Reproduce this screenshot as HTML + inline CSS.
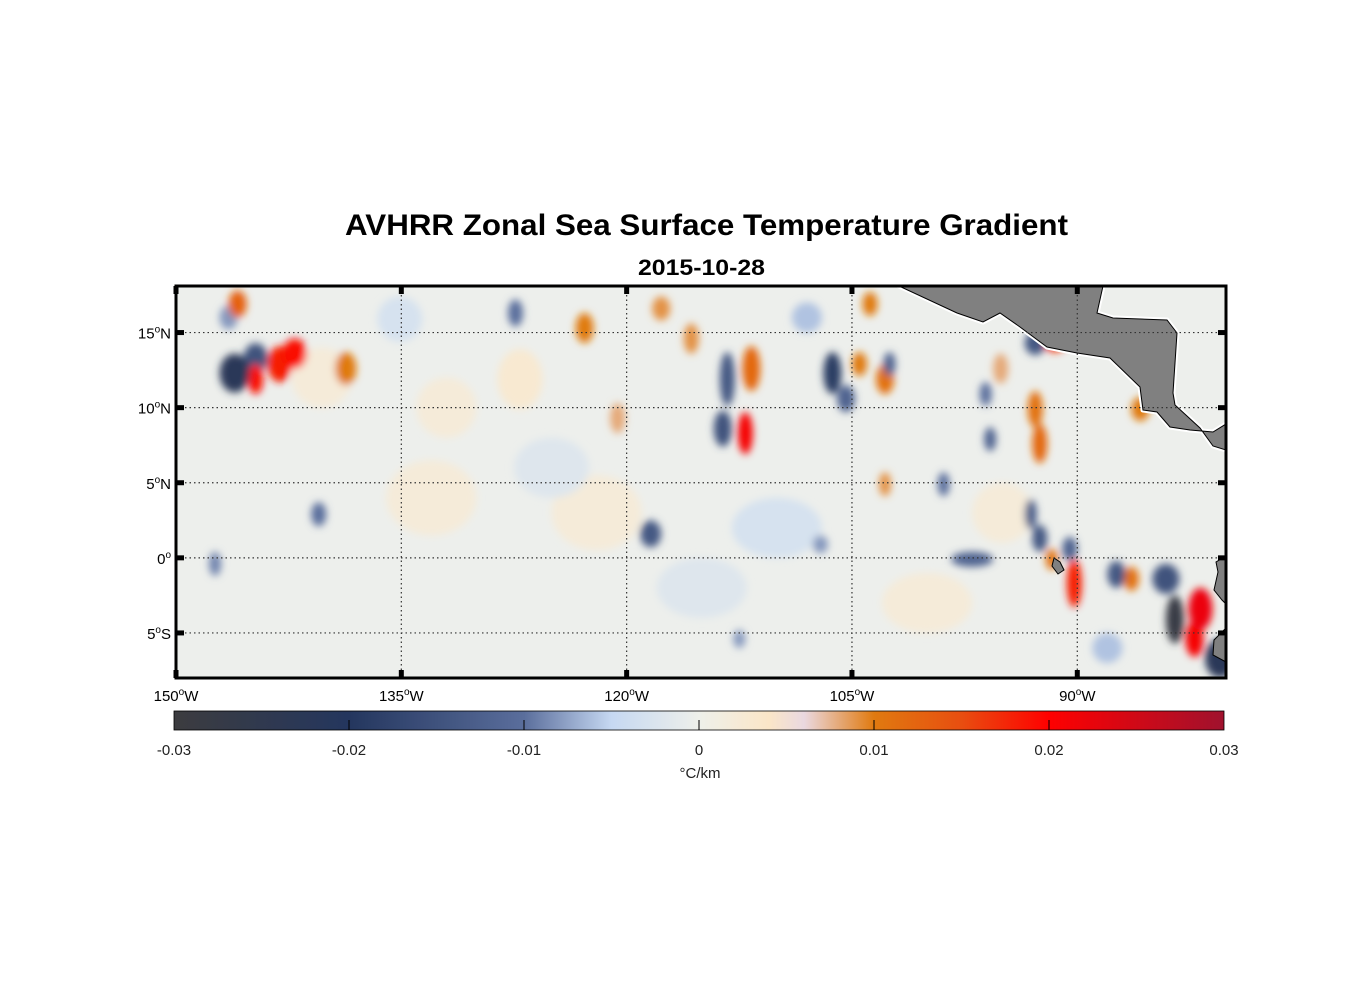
<!DOCTYPE html>
<html><head><meta charset="utf-8"><style>
body{margin:0;background:#fff;width:1356px;height:1000px;overflow:hidden;font-family:"Liberation Sans",Arial,sans-serif}
</style></head><body>
<svg id="fig" width="1356" height="1000" xmlns="http://www.w3.org/2000/svg" font-family="Liberation Sans, Arial, sans-serif">
<defs>
<clipPath id="mapclip"><rect x="176" y="286" width="1050" height="392"/></clipPath>
<filter id="blur" x="-50%" y="-50%" width="200%" height="200%"><feGaussianBlur stdDeviation="4"/></filter>
<linearGradient id="cbgrad" x1="0" x2="1" y1="0" y2="0"></linearGradient>
</defs>
<text x="345" y="235" textLength="723" lengthAdjust="spacingAndGlyphs" font-size="30" font-weight="bold">AVHRR Zonal Sea Surface Temperature Gradient</text>
<text x="638" y="275" textLength="127" lengthAdjust="spacingAndGlyphs" font-size="22" font-weight="bold">2015-10-28</text>
<rect x="176" y="286" width="1050" height="392" fill="#edefec"/>
<g id="blobs" clip-path="url(#mapclip)" filter="url(#blur)"></g>
<g id="land" clip-path="url(#mapclip)">
<polygon points="899,286 957,313 983,322 1000,313 1020,327 1047,347 1077,353 1110,358 1140,387 1143,410 1157,412 1170,427 1190,430 1213,432 1226,424 1226,450 1213,446 1200,428 1175,405 1173,393 1177,333 1167,320 1113,318 1097,313 1103,286" fill="#808080" stroke="#fff" stroke-width="5" stroke-linejoin="round"/>
<polygon points="899,286 957,313 983,322 1000,313 1020,327 1047,347 1077,353 1110,358 1140,387 1143,410 1157,412 1170,427 1190,430 1213,432 1226,424 1226,450 1213,446 1200,428 1175,405 1173,393 1177,333 1167,320 1113,318 1097,313 1103,286" fill="#808080" stroke="#000" stroke-width="1"/>
<polygon points="1226,556 1216,562 1218,572 1214,590 1222,600 1226,604" fill="#808080" stroke="#000" stroke-width="1"/>
<polygon points="1226,628 1214,640 1213,655 1226,662" fill="#808080" stroke="#000" stroke-width="1"/>
<polygon points="1054,558 1060,562 1064,570 1058,574 1052,566" fill="#808080" stroke="#000" stroke-width="1"/>
</g>
<g id="grid"></g>
<rect x="176" y="286" width="1050" height="392" fill="none" stroke="#000" stroke-width="3"/>
<g id="axes"></g>
<rect x="174" y="711" width="1050" height="19" fill="url(#cbgrad)" stroke="#000" stroke-width="0.8"/>
<g id="cbticks"></g>
<text x="700" y="778" text-anchor="middle" font-size="15" fill="#222">°C/km</text>
</svg>
<script>
const lonTicks=[-150,-135,-120,-105,-90];
const latTicks=[15,10,5,0,-5];
const cbTicks=[-0.03,-0.02,-0.01,0,0.01,0.02,0.03];
const cbTickLabels=["-0.03","-0.02","-0.01","0","0.01","0.02","0.03"];
const blobLon=[-146.1,-144.7,-143.1,-142.1,-144.7,-145.9,-138.7,-140.5,-147.4,-127.4,-122.8,-120.6,-118.4,-113.3,-111.7,-112.1,-113.6,-115.7,-117.7,-106.3,-105.4,-102.8,-104.5,-103.8,-102.8,-97.0,-92.8,-92.5,-91.5,-92.8,-93.1,-92.5,-90.2,-90.5,-91.7,-86.4,-87.4,-84.1,-83.5,-81.8,-82.2,-80.5,-85.8,-95.8,-95.1,-96.1,-102.5,-98.9,-107.1,-112.5,-127.1,-135.1,-146.5,-140.3,-133.0,-122.0,-110.0,-100.0,-125.0,-132.0,-115.0,-108.0,-95.0,-88.0];
const blobLat=[12.3,13.3,12.9,13.6,11.9,16.9,12.6,2.9,-0.4,16.3,15.3,9.3,1.6,11.9,12.6,8.3,8.6,14.6,16.6,12.3,10.6,11.9,12.9,16.9,4.9,-0.1,9.9,7.6,14.3,14.3,2.9,1.3,-1.7,0.6,-0.1,-1.4,-1.1,-1.4,-4.1,-3.4,-5.4,-6.7,9.9,7.9,12.6,10.9,12.9,4.9,0.9,-5.4,11.9,15.9,16.0,12.0,4.0,3.0,2.0,-3.0,6.0,10.0,-2.0,16.0,3.0,-6.0];
const blobVal=[-0.022,-0.015,0.018,0.019,0.019,0.013,0.01,-0.01,-0.009,-0.01,0.01,0.008,-0.014,-0.014,0.012,0.021,-0.015,0.009,0.009,-0.019,-0.012,0.011,0.01,0.01,0.009,-0.012,0.011,0.012,0.017,-0.014,-0.013,-0.014,0.018,-0.012,0.011,0.011,-0.014,-0.015,-0.028,0.022,0.021,-0.022,0.01,-0.012,0.008,-0.01,-0.012,-0.01,-0.008,-0.008,0.003,-0.003,-0.008,0.002,0.002,0.002,-0.003,0.002,-0.002,0.002,-0.002,-0.006,0.002,-0.006];
const blobRx=[1.0,0.8,0.8,0.8,0.5,0.6,0.7,0.5,0.4,0.5,0.6,0.5,0.7,0.5,0.6,0.5,0.6,0.5,0.6,0.6,0.6,0.6,0.5,0.5,0.4,1.4,0.5,0.5,0.7,0.7,0.4,0.5,0.5,0.5,0.4,0.5,0.6,0.9,0.6,0.8,0.6,1.0,0.6,0.4,0.5,0.4,0.4,0.4,0.5,0.4,1.5,1.5,0.6,2.0,3,3,3,3,2.5,2,3,1,2,1];
const blobRy=[1.3,1.0,1.2,1.0,1.0,0.9,1.1,0.8,0.8,0.9,1.0,1.0,0.9,1.8,1.5,1.4,1.2,1.0,0.8,1.4,0.9,1.0,0.8,0.8,0.8,0.5,1.2,1.3,0.6,0.8,1.0,0.9,1.6,0.8,0.7,0.8,0.9,1.0,1.6,1.4,1.2,1.3,0.8,0.8,1.0,0.8,0.8,0.8,0.6,0.6,2.0,1.5,0.8,2.0,2.5,2.5,2.0,2.0,2.0,2,2,1,2,1];
const cmapV=[-0.03,-0.02,-0.01,-0.005,0,0.004,0.006,0.01,0.015,0.02,0.03];
const cmapC=["#3c3c3f","#24365e","#5a6e9c","#c6d8f2","#eef0ea","#fbe6c8","#ead8e0","#e07a10","#e84e10","#ff0000","#a0122e"];
const X0=176,X1=1226,Y0=286,Y1=678;
const lon0=-150,lon1=-80.1,lat0=18.1,lat1=-8.0;
const xs=l=>X0+(l-lon0)/(lon1-lon0)*(X1-X0);
const ys=l=>Y0+(l-lat0)/(lat1-lat0)*(Y1-Y0);
const NS="http://www.w3.org/2000/svg";
function hex(h){return [1,3,5].map(i=>parseInt(h.substr(i,2),16));}
function cmap(v){v=Math.max(-0.03,Math.min(0.03,v));for(let i=0;i<cmapV.length-1;i++){if(v<=cmapV[i+1]){const t=(v-cmapV[i])/(cmapV[i+1]-cmapV[i]);const a=hex(cmapC[i]),b=hex(cmapC[i+1]);return "rgb("+a.map((c,k)=>Math.round(c+(b[k]-c)*t)).join(",")+")";}}return cmapC[cmapC.length-1];}
function mk(tag,attrs,parent){const e=document.createElementNS(NS,tag);for(const k in attrs)e.setAttribute(k,attrs[k]);parent.appendChild(e);return e;}
const blobs=document.getElementById('blobs');
const order=blobVal.map((v,i)=>i).sort((a,b)=>Math.abs(blobVal[a])-Math.abs(blobVal[b]));
order.forEach(i=>{const pxPerDeg=(X1-X0)/(lon1-lon0);
const e=mk('ellipse',{cx:xs(blobLon[i]),cy:ys(blobLat[i]),rx:blobRx[i]*pxPerDeg,ry:blobRy[i]*pxPerDeg,fill:cmap(blobVal[i])},blobs);

});
const grid=document.getElementById('grid'),axes=document.getElementById('axes');
lonTicks.forEach((l,i)=>{const x=xs(l);
if(i>0){const g=mk('line',{x1:x,x2:x,y1:Y0,y2:Y1,stroke:"#333","stroke-width":1.2,"stroke-dasharray":"1.5,3"},grid);}
mk('line',{x1:x,x2:x,y1:Y0,y2:Y0+8,stroke:"#000","stroke-width":5},axes);
mk('line',{x1:x,x2:x,y1:Y1-8,y2:Y1,stroke:"#000","stroke-width":5},axes);
const t=mk('text',{x:x,y:701,"text-anchor":"middle","font-size":15},axes);

t.innerHTML=Math.abs(l)+'<tspan dy="-6" font-size="10">o</tspan><tspan dy="6">W</tspan>';});
latTicks.forEach(l=>{const y=ys(l);
const g=mk('line',{x1:X0,x2:X1,y1:y,y2:y,stroke:"#333","stroke-width":1.2,"stroke-dasharray":"1.5,3"},grid);
mk('line',{x1:X0,x2:X0+8,y1:y,y2:y,stroke:"#000","stroke-width":5},axes);
mk('line',{x1:X1-8,x2:X1,y1:y,y2:y,stroke:"#000","stroke-width":5},axes);
const t=mk('text',{x:171,y:y+6,"text-anchor":"end","font-size":15},axes);

t.innerHTML=Math.abs(l)+'<tspan dy="-6" font-size="10">o</tspan><tspan dy="6">'+(l>0?'N':l<0?'S':'')+'</tspan>';});
const grad=document.getElementById('cbgrad');
for(let k=0;k<=60;k++){const v=-0.03+k*0.001;mk('stop',{offset:(k/60),"stop-color":cmap(v)},grad);}
const cb=document.getElementById('cbticks');
cbTicks.forEach((v,i)=>{const x=174+(v+0.03)/0.06*1050;
if(i>0&&i<cbTicks.length-1)mk('line',{x1:x,x2:x,y1:720,y2:730,stroke:"#000","stroke-width":1},cb);
const t=mk('text',{x:x,y:755,"text-anchor":"middle","font-size":15,fill:"#222"},cb);

t.textContent=cbTickLabels[i];});
</script>
</body></html>
